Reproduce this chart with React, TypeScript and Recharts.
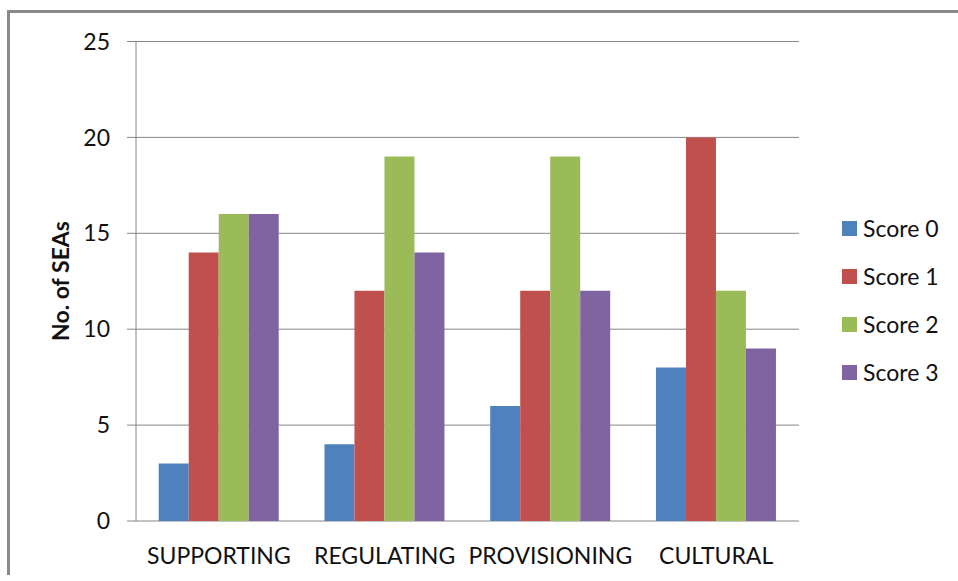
import { BarChart, Bar, XAxis, YAxis, CartesianGrid } from 'recharts';

const categories = ['SUPPORTING', 'REGULATING', 'PROVISIONING', 'CULTURAL'];
const score0 = [3, 4, 6, 8];
const score1 = [14, 12, 12, 20];
const score2 = [16, 19, 19, 12];
const score3 = [16, 14, 12, 9];
const seriesNames = ['Score 0', 'Score 1', 'Score 2', 'Score 3'];
const seriesColors = ['#4F81BD', '#C0504D', '#9BBB59', '#8064A2'];
const yTicks = [0, 5, 10, 15, 20, 25];

const data = categories.map((name, i) => ({
  name,
  s0: score0[i],
  s1: score1[i],
  s2: score2[i],
  s3: score3[i],
}));
const seriesKeys = ['s0', 's1', 's2', 's3'];
// category boundaries for the x-axis tick marks
const edgeTicks = [...categories.keys(), categories.length];

const FONT = 'Lato, "Open Sans", sans-serif';
const GRID = '#868686';

export default function App() {
  return (
    <div
      style={{
        position: 'absolute',
        left: 7,
        top: 10,
        width: 951,
        height: 565,
        boxSizing: 'border-box',
        borderTop: '3px solid #8a8a8a',
        borderLeft: '3px solid #8a8a8a',
        background: '#fff',
        fontFamily: FONT,
      }}
    >
      <BarChart
        width={941}
        height={560}
        data={data}
        margin={{ top: 28.5, right: 152, left: 50, bottom: 0 }}
        barCategoryGap="13.7%"
        barGap={0}
      >
        <CartesianGrid stroke={GRID} vertical={false} />
        <XAxis
          xAxisId="edges"
          type="number"
          domain={[0, categories.length]}
          ticks={edgeTicks}
          allowDataOverflow
          tick={false}
          tickSize={8}
          height={0}
          stroke={GRID}
        />
        <XAxis
          dataKey="name"
          height={52}
          axisLine={false}
          tickLine={false}
          tickSize={8}
          tickMargin={19}
          interval={0}
          tick={{ fill: '#111', fontSize: 23, fontFamily: FONT }}
        />
        <YAxis
          width={76}
          domain={[0, 25]}
          ticks={yTicks}
          stroke={GRID}
          tickSize={9}
          tickMargin={17}
          tick={{ fill: '#111', fontSize: 23, fontFamily: FONT }}
        />
        {seriesKeys.map((k, i) => (
          <Bar key={k} dataKey={k} name={seriesNames[i]} fill={seriesColors[i]} isAnimationActive={false} />
        ))}
      </BarChart>

      <div
        style={{
          position: 'absolute',
          left: 50,
          top: 268,
          transform: 'translate(-50%, -50%) rotate(-90deg)',
          whiteSpace: 'nowrap',
          fontWeight: 700,
          fontSize: 23,
          color: '#111',
        }}
      >
        No. of SEAs
      </div>

      <div style={{ position: 'absolute', left: 832, top: 191 }}>
        {seriesNames.map((n, i) => (
          <div key={n} style={{ display: 'flex', alignItems: 'center', height: 48 }}>
            <span style={{ width: 15, height: 15, background: seriesColors[i], marginRight: 6 }} />
            <span style={{ fontSize: 23, color: '#111' }}>{n}</span>
          </div>
        ))}
      </div>
    </div>
  );
}
